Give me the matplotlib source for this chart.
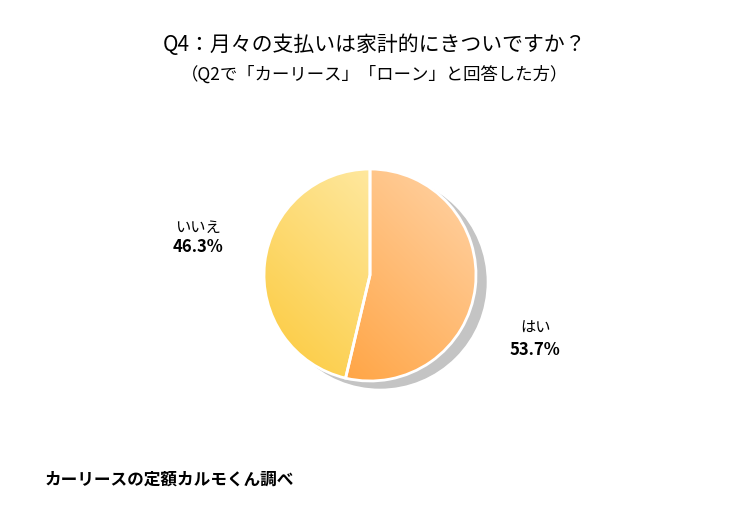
import matplotlib
matplotlib.use("Agg")
import matplotlib.pyplot as plt
import numpy as np
from matplotlib.colors import LinearSegmentedColormap
from matplotlib.patches import Circle

plt.rcParams['font.family'] = ['Noto Sans CJK JP', 'DejaVu Sans']

labels = ['はい', 'いいえ']
values = [53.7, 46.3]

fig = plt.figure(figsize=(7.5, 5.2), dpi=100)
ax = fig.add_axes([0, 0, 1, 1])
ax.set_xlim(0, 750); ax.set_ylim(0, 520); ax.set_aspect('equal'); ax.axis('off')

cx, cy, r = 370, 520 - 275, 106
ax.add_patch(Circle((cx + 10, cy - 7), r, color='#c4c4c4', zorder=1))
wedges, _ = ax.pie(values, startangle=90, counterclock=False, center=(cx, cy), radius=r,
                   colors=['none', 'none'], wedgeprops=dict(edgecolor='white', linewidth=2),
                   frame=True)
ax.set_xlim(0, 750); ax.set_ylim(0, 520); ax.axis('off')

cmaps = [LinearSegmentedColormap.from_list('o', ['#ffd4a8', '#ff9a2e']),
         LinearSegmentedColormap.from_list('y', ['#fff2c0', '#fcc93a'])]
yy, xx = np.mgrid[1:0:200j, 0:1:200j]
grad = np.clip((0.5 * (1 - xx) + 0.5 * (1 - yy)), 0, 1)  # top-right light
for w, cm in zip(wedges, cmaps):
    im = ax.imshow(grad, cmap=cm, extent=[cx - r, cx + r, cy - r, cy + r], zorder=2,
                   origin='upper', aspect='auto')
    im.set_clip_path(w)
    w.set_zorder(3)

ax.text(535, 520 - 328, 'はい', ha='center', va='center', fontsize=11)
ax.text(535, 520 - 350, '53.7%', ha='center', va='center', fontsize=12, fontweight='bold')
ax.text(198, 520 - 227, 'いいえ', ha='center', va='center', fontsize=11)
ax.text(198, 520 - 247, '46.3%', ha='center', va='center', fontsize=12, fontweight='bold')

ax.text(375, 520 - 45, 'Q4：月々の支払いは家計的にきついですか？', ha='center', va='center', fontsize=15)
ax.text(375, 520 - 75, '（Q2で「カーリース」「ローン」と回答した方）', ha='center', va='center', fontsize=12.5)
ax.text(45, 520 - 480, 'カーリースの定額カルモくん調べ', ha='left', va='center', fontsize=12, fontweight='bold')

fig.savefig('out.png', dpi=100)
